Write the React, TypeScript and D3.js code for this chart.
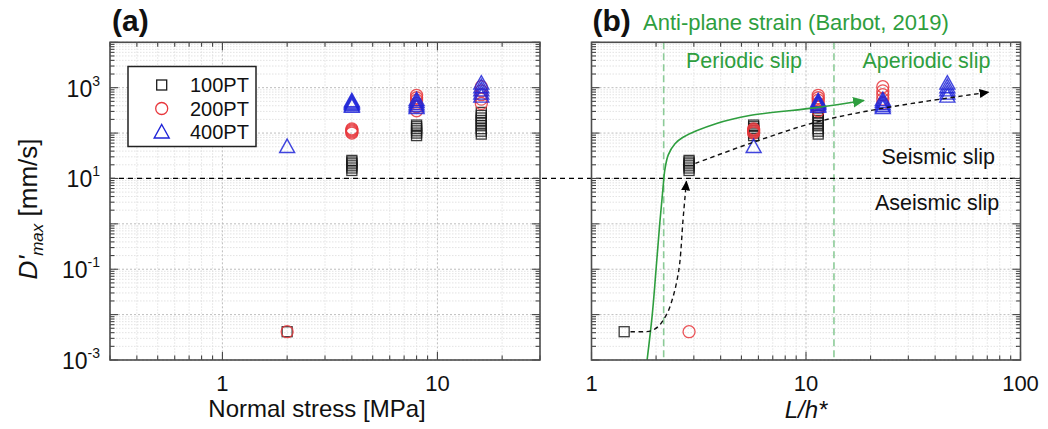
import React from "react";
import * as d3 from "d3";

// ---------- DATA ----------
// 100PT
const pt100Stress = [2, 4, 4, 4, 4, 4, 4, 8, 8, 8, 8, 8, 8, 16, 16, 16, 16, 16, 16, 16, 16, 16];
const pt100Lh = [1.42, 2.85, 2.85, 2.85, 2.85, 2.85, 2.85, 5.7, 5.7, 5.7, 5.7, 5.7, 5.7, 11.4, 11.4, 11.4, 11.4, 11.4, 11.4, 11.4, 11.4, 11.4];
const pt100Vel = [0.0042, 15, 17, 19, 21, 23, 25, 88, 100, 112, 125, 138, 150, 95, 110, 125, 145, 165, 190, 215, 245, 285];
// 200PT
const pt200Stress = [2, 4, 4, 4, 4, 4, 8, 8, 8, 8, 8, 8, 16, 16, 16, 16, 16];
const pt200Lh = [2.85, 5.7, 5.7, 5.7, 5.7, 5.7, 11.4, 11.4, 11.4, 11.4, 11.4, 11.4, 22.8, 22.8, 22.8, 22.8, 22.8];
const pt200Vel = [0.0042, 100, 106, 112, 118, 124, 310, 380, 450, 530, 600, 680, 450, 560, 700, 850, 1050];
// 400PT
const pt400Stress = [2, 4, 4, 4, 4, 4, 8, 8, 8, 8, 8, 16, 16, 16, 16, 16];
const pt400Lh = [5.7, 11.4, 11.4, 11.4, 11.4, 11.4, 22.8, 22.8, 22.8, 22.8, 22.8, 45.6, 45.6, 45.6, 45.6, 45.6];
const pt400Vel = [48, 370, 400, 430, 460, 490, 345, 380, 420, 470, 520, 620, 720, 850, 1000, 1200];

// Barbot (2019) anti-plane strain curve
const greenX = [1.8, 1.92, 2.0, 2.08, 2.15, 2.2, 2.28, 2.45, 2.66, 3.83, 5.46, 11.2, 18.6];
const greenY = [0.0007, 0.01, 0.1, 1, 5.5, 16, 33, 58, 80, 162, 243, 363, 522];
// regime boundaries (L/h*)
const boundaries = [2.17, 13.5];
// black dashed trend curves
const trend1X = [1.52, 1.75, 1.9, 2.05, 2.16, 2.28, 2.4, 2.5, 2.58, 2.67, 2.73, 2.77];
const trend1Y = [0.0042, 0.0042, 0.0044, 0.0055, 0.0076, 0.012, 0.0246, 0.055, 0.14, 1.2, 4, 8.6];
const trend2X = [3.05, 5.64, 11.1, 22.7, 71];
const trend2Y = [21.5, 62, 173, 351, 795];

const seismicThreshold = 10;
const legendLabels = ["100PT", "200PT", "400PT"];
const yLabelExps = [-3, -1, 1, 3];
const xLabelsA = [1, 10];
const xLabelsB = [1, 10, 100];

// ---------- STYLE ----------
const FONT = "'Liberation Sans', Arial, Helvetica, sans-serif";
const GREEN = "#2e9e3e";
const LIGHT_GREEN = "#8ccb98";
const SQ = "#1a1a1a";
const CI = "#e8373c";
const TR = "#1f24d8";

const Y0 = 360;
const Y1 = 42.3;
const yScale = d3.scaleLog().domain([1e-3, 1e4]).range([Y0, Y1]);
const xScaleA = d3.scaleLog().domain([0.3, 30]).range([110, 540]);
const xScaleB = d3.scaleLog().domain([1, 100]).range([591.5, 1020.5]);

const isMajor = (v: number) => Math.abs(Math.log10(v) - Math.round(Math.log10(v))) < 1e-6;

function Square({ cx, cy, op = 0.85 }: any) {
  return <rect x={cx - 5} y={cy - 5} width={10} height={10} fill="none" stroke={SQ} strokeWidth={1.3} strokeOpacity={op} />;
}
function Circle({ cx, cy, op = 0.85 }: any) {
  return <circle cx={cx} cy={cy} r={6} fill="none" stroke={CI} strokeWidth={1.3} strokeOpacity={op} />;
}
function Triangle({ cx, cy, op = 0.85 }: any) {
  return (
    <path
      d={`M${cx},${cy - 8.5}L${cx + 7.5},${cy + 5}L${cx - 7.5},${cy + 5}Z`}
      fill="none"
      stroke={TR}
      strokeWidth={1.4}
      strokeOpacity={op}
      strokeLinejoin="miter"
    />
  );
}

function Grid({ xs }: any) {
  const [x0, x1] = xs.range();
  const xt = xs.ticks();
  const yt = yScale.ticks();
  return (
    <g>
      {xt.map((t: number, i: number) => (
        <line key={"gx" + i} x1={xs(t)} x2={xs(t)} y1={Y1} y2={Y0}
          stroke={isMajor(t) ? "#bdbdbd" : "#dcdcdc"} strokeWidth={isMajor(t) ? 1 : 0.8}
          strokeDasharray={isMajor(t) ? "2,2" : "1.5,1.5"} />
      ))}
      {yt.map((t: number, i: number) => (
        <line key={"gy" + i} x1={x0} x2={x1} y1={yScale(t)} y2={yScale(t)}
          stroke={isMajor(t) ? "#bdbdbd" : "#dcdcdc"} strokeWidth={isMajor(t) ? 1 : 0.8}
          strokeDasharray={isMajor(t) ? "2,2" : "1.5,1.5"} />
      ))}
    </g>
  );
}

function Frame({ xs }: any) {
  const [x0, x1] = xs.range();
  const xt = xs.ticks();
  const yt = yScale.ticks();
  return (
    <g>
      {xt.map((t: number, i: number) => {
        const L = isMajor(t) ? 8 : 4.5;
        const x = xs(t);
        return (
          <g key={"tx" + i}>
            <line x1={x} x2={x} y1={Y0} y2={Y0 - L} stroke="#444" strokeWidth={1.1} />
            <line x1={x} x2={x} y1={Y1} y2={Y1 + L} stroke="#444" strokeWidth={1.1} />
          </g>
        );
      })}
      {yt.map((t: number, i: number) => {
        const L = isMajor(t) ? 8 : 4.5;
        const y = yScale(t);
        return (
          <g key={"ty" + i}>
            <line x1={x0} x2={x0 + L} y1={y} y2={y} stroke="#444" strokeWidth={1.1} />
            <line x1={x1} x2={x1 - L} y1={y} y2={y} stroke="#444" strokeWidth={1.1} />
          </g>
        );
      })}
      <rect x={x0} y={Y1} width={x1 - x0} height={Y0 - Y1} fill="none" stroke="#4d4d4d" strokeWidth={1.6} />
    </g>
  );
}

export default function App() {
  const lineGen = (xs: any) =>
    d3.line<[number, number]>()
      .x((d) => xs(d[0]))
      .y((d) => yScale(d[1]))
      .curve(d3.curveCatmullRom.alpha(0.5));

  const greenPts: [number, number][] = greenX.map((x, i) => [x, greenY[i]]);
  const t1Pts: [number, number][] = trend1X.map((x, i) => [x, trend1Y[i]]);
  const t2Pts: [number, number][] = trend2X.map((x, i) => [x, trend2Y[i]]);
  const lb = lineGen(xScaleB);
  const [bx0, bx1] = xScaleB.range();
  const [ax0] = xScaleA.range();

  return (
    <svg width={1048} height={429} style={{ position: "absolute", left: 0, top: 0, background: "#fff" }} fontFamily={FONT}>
      <defs>
        <marker id="arrK" viewBox="0 0 10 10" refX="9" refY="5" markerWidth="10" markerHeight="10" markerUnits="userSpaceOnUse" orient="auto">
          <path d="M0,0.5L10,5L0,9.5Z" fill="#000" />
        </marker>
        <marker id="arrG" viewBox="0 0 10 10" refX="9" refY="5" markerWidth="12" markerHeight="12" markerUnits="userSpaceOnUse" orient="auto">
          <path d="M0,0.5L10,5L0,9.5Z" fill={GREEN} />
        </marker>
        <clipPath id="clipB">
          <rect x={bx0} y={Y1} width={bx1 - bx0} height={Y0 - Y1} />
        </clipPath>
      </defs>
      <rect x={0} y={0} width={1048} height={429} fill="#fff" />

      <Grid xs={xScaleA} />
      <Grid xs={xScaleB} />

      {boundaries.map((b, i) => (
        <line key={"bd" + i} x1={xScaleB(b)} x2={xScaleB(b)} y1={Y1} y2={Y0}
          stroke={LIGHT_GREEN} strokeWidth={1.6} strokeDasharray="7,4" />
      ))}

      <line x1={ax0} x2={bx1} y1={yScale(seismicThreshold)} y2={yScale(seismicThreshold)}
        stroke="#000" strokeWidth={1.3} strokeDasharray="5,4" />

      <g>
        {pt100Stress.map((s, i) => <Square key={"as" + i} cx={xScaleA(s)} cy={yScale(pt100Vel[i])} />)}
        {pt200Stress.map((s, i) => <Circle key={"ac" + i} cx={xScaleA(s)} cy={yScale(pt200Vel[i])} />)}
        {pt400Stress.map((s, i) => <Triangle key={"at" + i} cx={xScaleA(s)} cy={yScale(pt400Vel[i])} />)}
      </g>

      <g>
        {pt100Lh.map((s, i) => <Square key={"bs" + i} cx={xScaleB(s)} cy={yScale(pt100Vel[i])} />)}
        {pt200Lh.map((s, i) => <Circle key={"bc" + i} cx={xScaleB(s)} cy={yScale(pt200Vel[i])} />)}
        {pt400Lh.map((s, i) => <Triangle key={"bt" + i} cx={xScaleB(s)} cy={yScale(pt400Vel[i])} />)}
      </g>

      <g clipPath="url(#clipB)">
        <path d={lb(greenPts) || ""} fill="none" stroke={GREEN} strokeWidth={1.6} markerEnd="url(#arrG)" />
        <path d={lb(t1Pts) || ""} fill="none" stroke="#111" strokeWidth={1.4} strokeDasharray="4.5,3.5" markerEnd="url(#arrK)" />
        <path d={lb(t2Pts) || ""} fill="none" stroke="#111" strokeWidth={1.4} strokeDasharray="4.5,3.5" markerEnd="url(#arrK)" />
      </g>

      <Frame xs={xScaleA} />
      <Frame xs={xScaleB} />

      <g>
        <rect x={128} y={66.5} width={128} height={80} fill="#fff" stroke="#222" strokeWidth={1.5} />
        {legendLabels.map((lab, i) => {
          const cy = 85 + i * 23.5;
          return (
            <g key={"lg" + i}>
              {i === 0 && <Square cx={161.7} cy={cy} op={1} />}
              {i === 1 && <Circle cx={161.7} cy={cy} op={1} />}
              {i === 2 && <Triangle cx={161.7} cy={cy + 1} op={1} />}
              <text x={190} y={cy + 7} fontSize={20} fill="#111">{lab}</text>
            </g>
          );
        })}
      </g>

      {yLabelExps.map((e) => (
        <text key={"yl" + e} x={100} y={yScale(Math.pow(10, e)) + 9} textAnchor="end" fontSize={23} fill="#111">
          10<tspan dy={-11} fontSize={14}>{String(e)}</tspan>
        </text>
      ))}
      {xLabelsA.map((v) => (
        <text key={"xa" + v} x={xScaleA(v)} y={391} textAnchor="middle" fontSize={22} fill="#111">{v}</text>
      ))}
      {xLabelsB.map((v) => (
        <text key={"xb" + v} x={xScaleB(v)} y={391} textAnchor="middle" fontSize={22} fill="#111">{v}</text>
      ))}

      <text x={317} y={417} textAnchor="middle" fontSize={24} fill="#111">Normal stress [MPa]</text>
      <text x={806} y={418} textAnchor="middle" fontSize={24} fontStyle="italic" fill="#111">L/h*</text>
      <text transform="translate(37,209) rotate(-90)" textAnchor="middle" fontSize={26} fill="#111">
        <tspan fontStyle="italic">D'</tspan>
        <tspan fontStyle="italic" fontSize={17} dy={6}>max</tspan>
        <tspan dy={-6}> [mm/s]</tspan>
      </text>

      <text x={112} y={31} fontSize={30} fontWeight="bold" fill="#111">(a)</text>
      <text x={592.5} y={31} fontSize={30} fontWeight="bold" fill="#111">(b)</text>
      <text x={643} y={30} fontSize={22} fill={GREEN}>Anti-plane strain (Barbot, 2019)</text>
      <text x={686} y={68} fontSize={21.5} fill={GREEN}>Periodic slip</text>
      <text x={862.5} y={68} fontSize={21.5} fill={GREEN}>Aperiodic slip</text>
      <text x={881.5} y={164} fontSize={21.5} fill="#111">Seismic slip</text>
      <text x={875} y={210} fontSize={21.5} fill="#111">Aseismic slip</text>
    </svg>
  );
}
